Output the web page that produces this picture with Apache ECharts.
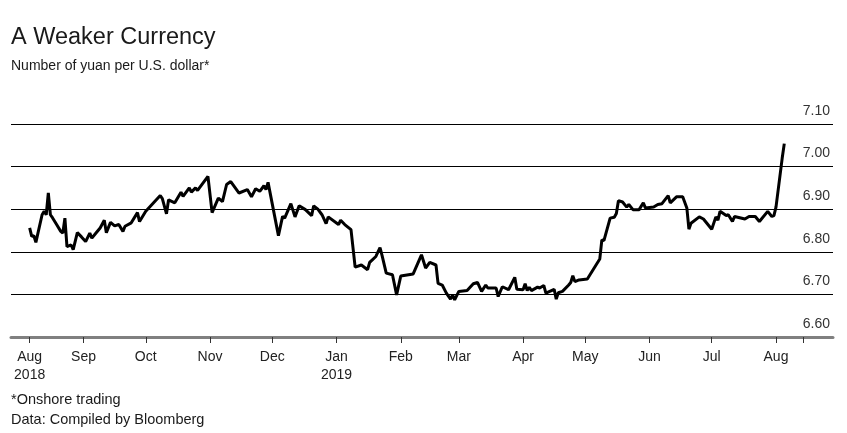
<!DOCTYPE html>
<html>
<head>
<meta charset="utf-8">
<script src="https://cdn.jsdelivr.net/npm/echarts@6/dist/echarts.min.js"></script>
<style>
html,body{margin:0;padding:0;background:#fff;}
#chart{width:847px;height:433px;}
</style>
</head>
<body>
<div id="chart"></div>
<script>
// Trading dates and yuan per U.S. dollar (onshore)
var dates = [
 '2018-08-06','2018-08-07','2018-08-08','2018-08-09','2018-08-10','2018-08-12','2018-08-13','2018-08-14','2018-08-15','2018-08-16',
 '2018-08-17','2018-08-19','2018-08-21','2018-08-22','2018-08-23','2018-08-24','2018-08-26','2018-08-27','2018-08-29','2018-08-31',
 '2018-09-02','2018-09-04','2018-09-05','2018-09-07','2018-09-09','2018-09-11','2018-09-12','2018-09-14','2018-09-16','2018-09-18',
 '2018-09-20','2018-09-21','2018-09-24','2018-09-27','2018-09-28','2018-10-01','2018-10-08','2018-10-09','2018-10-11','2018-10-12',
 '2018-10-15','2018-10-18','2018-10-19','2018-10-22','2018-10-23','2018-10-25','2018-10-26','2018-10-31','2018-11-02','2018-11-05',
 '2018-11-07','2018-11-09','2018-11-11','2018-11-15','2018-11-19','2018-11-21','2018-11-23','2018-11-25','2018-11-27','2018-11-28',
 '2018-11-29','2018-12-04','2018-12-06','2018-12-07','2018-12-10','2018-12-12','2018-12-14','2018-12-17','2018-12-20','2018-12-21',
 '2018-12-23','2018-12-25','2018-12-27','2018-12-28','2019-01-02','2019-01-03','2019-01-05','2019-01-08','2019-01-10','2019-01-13',
 '2019-01-16','2019-01-17','2019-01-20','2019-01-22','2019-01-23','2019-01-25','2019-01-28','2019-01-30','2019-02-01','2019-02-07',
 '2019-02-11','2019-02-13','2019-02-15','2019-02-18','2019-02-19','2019-02-21','2019-02-23','2019-02-25','2019-02-26','2019-02-27',
 '2019-03-01','2019-03-05','2019-03-08','2019-03-10','2019-03-12','2019-03-14','2019-03-15','2019-03-19','2019-03-20','2019-03-22',
 '2019-03-25','2019-03-28','2019-03-29','2019-04-01','2019-04-02','2019-04-03','2019-04-04','2019-04-05','2019-04-08','2019-04-09',
 '2019-04-11','2019-04-12','2019-04-16','2019-04-17','2019-04-18','2019-04-20','2019-04-23','2019-04-24','2019-04-25','2019-04-26',
 '2019-04-28','2019-05-02','2019-05-08','2019-05-09','2019-05-10','2019-05-13','2019-05-15','2019-05-16','2019-05-17','2019-05-19',
 '2019-05-21','2019-05-22','2019-05-24','2019-05-27','2019-05-29','2019-05-30','2019-06-03','2019-06-05','2019-06-07','2019-06-10',
 '2019-06-11','2019-06-14','2019-06-17','2019-06-19','2019-06-20','2019-06-21','2019-06-25','2019-06-27','2019-07-01','2019-07-03',
 '2019-07-04','2019-07-05','2019-07-08','2019-07-09','2019-07-11','2019-07-12','2019-07-17','2019-07-19','2019-07-22','2019-07-24',
 '2019-07-28','2019-07-30','2019-07-31','2019-08-01','2019-08-04','2019-08-05'
];
var values = [
 6.856,6.836,6.838,6.822,6.844,6.887,6.895,6.887,6.938,6.887,
 6.880,6.864,6.848,6.844,6.879,6.812,6.816,6.805,6.845,6.835,
 6.824,6.844,6.832,6.844,6.856,6.874,6.845,6.869,6.861,6.864,
 6.848,6.860,6.868,6.892,6.871,6.895,6.932,6.925,6.889,6.922,
 6.915,6.940,6.930,6.950,6.940,6.950,6.944,6.977,6.892,6.926,
 6.918,6.958,6.965,6.938,6.946,6.929,6.948,6.942,6.955,6.946,
 6.963,6.838,6.883,6.879,6.913,6.882,6.908,6.899,6.885,6.908,
 6.900,6.887,6.866,6.882,6.864,6.874,6.864,6.852,6.764,6.769,
 6.758,6.775,6.789,6.810,6.791,6.750,6.746,6.699,6.743,6.748,
 6.793,6.762,6.775,6.769,6.726,6.722,6.703,6.689,6.699,6.687,
 6.707,6.709,6.725,6.728,6.707,6.722,6.715,6.715,6.695,6.718,
 6.711,6.740,6.712,6.711,6.725,6.709,6.717,6.709,6.717,6.715,
 6.721,6.703,6.712,6.689,6.704,6.707,6.722,6.728,6.744,6.730,
 6.734,6.736,6.783,6.828,6.826,6.879,6.881,6.890,6.920,6.917,
 6.905,6.911,6.899,6.899,6.915,6.903,6.905,6.911,6.913,6.932,
 6.915,6.929,6.929,6.903,6.853,6.867,6.882,6.877,6.853,6.882,
 6.874,6.895,6.885,6.887,6.871,6.883,6.877,6.883,6.883,6.871,
 6.895,6.883,6.885,6.905,7.020,7.054
];
// Axis ticks (month starts) and labels
var tickDates = ['2018-08-06','2018-09-01','2018-10-01','2018-11-01','2018-12-01','2019-01-01','2019-02-01',
                 '2019-03-01','2019-04-01','2019-05-01','2019-06-01','2019-07-01','2019-08-01'];
var tickLabels = ['Aug\n2018','Sep','Oct','Nov','Dec','Jan\n2019','Feb','Mar','Apr','May','Jun','Jul','Aug'];
var extraTickDate = '2019-08-14';
var xRange = {min: '2018-07-28', max: '2019-08-28'};
var yTicks = {min: 6.60, max: 7.10, interval: 0.10};
var titleText = 'A Weaker Currency';
var subtitleText = 'Number of yuan per U.S. dollar*';
var noteText = '*Onshore trading';
var sourceText = 'Data: Compiled by Bloomberg';

function ts(s) {
  var p = s.split('-');
  return Date.UTC(+p[0], +p[1] - 1, +p[2]);
}
var tickTs = tickDates.map(ts);
var labelMap = {};
tickTs.forEach(function (t, i) { labelMap[t] = tickLabels[i]; });

var seriesData = dates.map(function (d, i) { return [ts(d), values[i]]; });

var FONT = '"Liberation Sans", Arial, Helvetica, sans-serif';
var chart = echarts.init(document.getElementById('chart'));
chart.setOption({
  animation: false,
  backgroundColor: '#fff',
  title: [
    {text: titleText, left: 6, top: 21, textStyle: {fontFamily: FONT, fontSize: 23.5, fontWeight: 'normal', color: '#1a1a1a'}},
    {text: subtitleText, left: 6, top: 54, textStyle: {fontFamily: FONT, fontSize: 14, fontWeight: 'normal', color: '#1a1a1a'}},
    {text: noteText, left: 6, top: 387, textStyle: {fontFamily: FONT, fontSize: 14.5, fontWeight: 'normal', color: '#1a1a1a'}},
    {text: sourceText, left: 6, top: 407, textStyle: {fontFamily: FONT, fontSize: 14.5, fontWeight: 'normal', color: '#1a1a1a'}}
  ],
  grid: {left: 11, right: 14, top: 124, bottom: 96, containLabel: false},
  xAxis: {
    type: 'value',
    min: ts(xRange.min),
    max: ts(xRange.max) + 12 * 3600 * 1000,
    axisLine: {show: true, lineStyle: {color: '#808080', width: 3}},
    axisTick: {show: true, length: 6, lineStyle: {color: '#333', width: 1},
               customValues: tickTs.concat([ts(extraTickDate)])},
    axisLabel: {
      customValues: tickTs,
      formatter: function (v) { return labelMap[v] || ''; },
      fontFamily: FONT, fontSize: 14, color: '#222', margin: 11, lineHeight: 18
    },
    splitLine: {show: false}
  },
  yAxis: {
    type: 'value',
    position: 'right',
    min: yTicks.min, max: yTicks.max, interval: yTicks.interval,
    axisLine: {show: false},
    axisTick: {show: false},
    splitLine: {show: true, lineStyle: {color: '#000', width: 1}},
    axisLabel: {
      inside: true, margin: 3,
      verticalAlign: 'bottom', padding: [0, 0, 6, 0],
      formatter: function (v) { return v.toFixed(2); },
      fontFamily: FONT, fontSize: 14, color: '#333'
    }
  },
  series: [{
    type: 'line',
    data: seriesData,
    showSymbol: false,
    lineStyle: {color: '#000', width: 3},
    z: 3
  }]
});
</script>
</body>
</html>
